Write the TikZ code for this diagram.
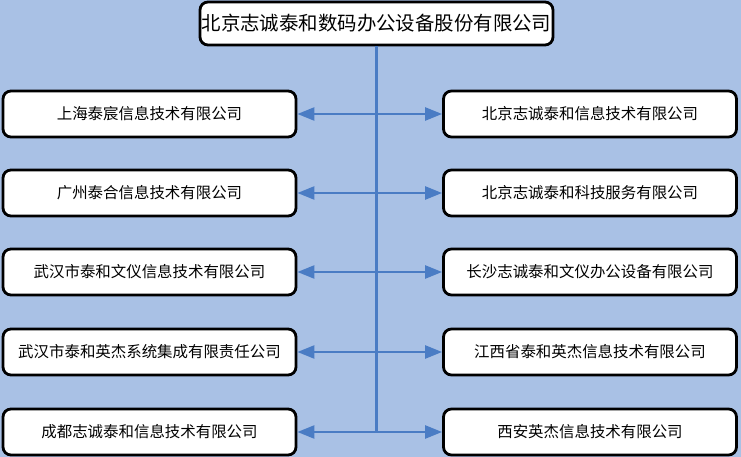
\documentclass[tikz,border=0pt]{standalone}
\usepackage{fontspec}
\setmainfont{Noto Sans CJK SC}
\usetikzlibrary{arrows.meta}
\definecolor{bgblue}{HTML}{A9C1E5}
\definecolor{linkblue}{HTML}{4A7CC4}
\tikzset{
  unitbox/.style={draw=black, line width=2.8bp, fill=white, rounded corners=8bp,
    minimum width=293bp, minimum height=46bp, inner sep=0pt,
    font=\fontsize{15.5}{18}\selectfont},
  headbox/.style={unitbox, minimum width=353bp, minimum height=43bp,
    font=\fontsize{19.5}{22}\selectfont},
  link/.style={draw=linkblue, line width=2.4bp,
    -{Triangle[length=17bp,width=13bp]}}
}
\begin{document}
\begin{tikzpicture}[x=1bp,y=-1bp]
    % Fond
    \fill[bgblue] (0,0) rectangle (741,457);
    \useasboundingbox (0,0) rectangle (741,457);

    % Société mère
    \node[headbox] (head) at (376.5,23.5) {北京志诚泰和数码办公设备股份有限公司};

    % Filiales
    \foreach \i/\y/\lname/\rname in {
        1/114/上海泰宸信息技术有限公司/北京志诚泰和信息技术有限公司,
        2/193/广州泰合信息技术有限公司/北京志诚泰和科技服务有限公司,
        3/272/武汉市泰和文仪信息技术有限公司/长沙志诚泰和文仪办公设备有限公司,
        4/352/武汉市泰和英杰系统集成有限责任公司/江西省泰和英杰信息技术有限公司,
        5/432/成都志诚泰和信息技术有限公司/西安英杰信息技术有限公司} {
        \node[unitbox] (left\i) at (149.5,\y) {\lname};
        \node[unitbox] (right\i) at (590,\y) {\rname};
        \coordinate (hub\i) at (head.south |- left\i);
        \draw[link] (hub\i) -- (left\i);
        \draw[link] (hub\i) -- (right\i);
    }

    % Tronc vertical
    \draw[linkblue, line width=2.4bp] (head.south) -- (hub5);
\end{tikzpicture}
\end{document}
